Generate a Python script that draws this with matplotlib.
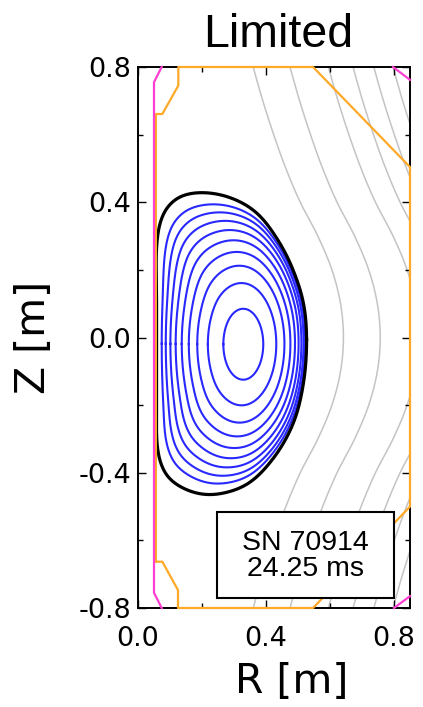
import numpy as np
import matplotlib
matplotlib.use("Agg")
import matplotlib.pyplot as plt
from matplotlib.patches import Rectangle

plt.rcParams['axes.unicode_minus'] = False

# ---------------- data (metres) ----------------
# last closed flux surface
lcfs_R = [0.527, 0.519, 0.496, 0.449, 0.371, 0.288, 0.199, 0.131, 0.090, 0.069,
          0.058, 0.058, 0.058, 0.058, 0.060, 0.074, 0.100, 0.163, 0.235, 0.340,
          0.425, 0.487, 0.518]
lcfs_Z = [-0.006, 0.093, 0.172, 0.270, 0.369, 0.414, 0.429, 0.417, 0.384, 0.340,
          0.270, 0.120, -0.040, -0.200, -0.322, -0.381, -0.420, -0.455, -0.465, -0.435,
          -0.355, -0.250, -0.130]

# magnetic axis and core surface shape (half-width, half-height per unit rho)
axis_R, axis_Z = 0.331, -0.020
core_a, core_b = 0.28, 0.47

# normalised poloidal flux of the closed surfaces
psi_levels = [0.05, 0.15, 0.25, 0.35, 0.45, 0.55, 0.65, 0.75, 0.85]

# open field lines: radius at the midplane and common vertical profile
open_R_mid = [0.642, 0.757, 0.877, 0.954, 1.019, 1.079, 1.132]
open_Z = [0.0, 0.1, 0.2, 0.3, 0.4, 0.5, 0.6, 0.7, 0.8, 0.9]
open_dR = [0.0, 0.009, 0.036, 0.080, 0.135, 0.180, 0.218, 0.252, 0.282, 0.310]

# vacuum vessel / limiter contour
vessel_R = [0.056, 0.056, 0.076, 0.126, 0.126, 0.547, 0.850, 0.850, 0.547, 0.125,
            0.125, 0.076, 0.056]
vessel_Z = [-0.663, 0.661, 0.661, 0.745, 0.800, 0.800, 0.504, -0.500, -0.800, -0.800,
            -0.747, -0.663, -0.663]

# centre-column wall and outer corner tiles
wall_R = [0.074, 0.050, 0.050, 0.074]
wall_Z = [0.800, 0.755, -0.755, -0.800]
tile_top_R = [0.797, 0.850]
tile_top_Z = [0.800, 0.762]
tile_bot_R = [0.800, 0.850]
tile_bot_Z = [-0.800, -0.765]

x_ticks = [0.0, 0.2, 0.4, 0.6, 0.8]
x_labels = ["0.0", "", "0.4", "", "0.8"]
y_ticks = [-0.8, -0.6, -0.4, -0.2, 0.0, 0.2, 0.4, 0.6, 0.8]
y_labels = ["-0.8", "", "-0.4", "", "0.0", "", "0.4", "", "0.8"]

shot_text = "SN 70914\n24.25 ms"


def catmull_rom(points, n=24, closed=False):
    """Centripetal Catmull-Rom spline through a list of 2-D points."""
    P = np.asarray(points, float)
    if closed:
        pts = np.vstack([P[-1], P, P[0], P[1]])
    else:
        pts = np.vstack([2 * P[0] - P[1], P, 2 * P[-1] - P[-2]])
    out = []
    for i in range(len(pts) - 3):
        p0, p1, p2, p3 = pts[i:i + 4]
        t0 = 0.0
        t1 = t0 + np.linalg.norm(p1 - p0) ** 0.5
        t2 = t1 + np.linalg.norm(p2 - p1) ** 0.5
        t3 = t2 + np.linalg.norm(p3 - p2) ** 0.5
        t = np.linspace(t1, t2, n, endpoint=False)[:, None]
        A1 = (t1 - t) / (t1 - t0) * p0 + (t - t0) / (t1 - t0) * p1
        A2 = (t2 - t) / (t2 - t1) * p1 + (t - t1) / (t2 - t1) * p2
        A3 = (t3 - t) / (t3 - t2) * p2 + (t - t2) / (t3 - t2) * p3
        B1 = (t2 - t) / (t2 - t0) * A1 + (t - t0) / (t2 - t0) * A2
        B2 = (t3 - t) / (t3 - t1) * A2 + (t - t1) / (t3 - t1) * A3
        out.append((t2 - t) / (t2 - t1) * B1 + (t - t1) / (t2 - t1) * B2)
    res = np.vstack(out)
    return np.vstack([res, res[:1]]) if closed else np.vstack([res, P[-1]])


def smooth_closed(curve, n=800, sigma=0.018):
    """Resample a closed curve by arc length and apply a periodic Gaussian filter."""
    seg = np.hypot(*np.diff(curve, axis=0).T)
    s = np.concatenate([[0], np.cumsum(seg)])
    L = s[-1]
    su = np.linspace(0, L, n, endpoint=False)
    x = np.interp(su, s, curve[:, 0])
    y = np.interp(su, s, curve[:, 1])
    ds = L / n
    k = np.arange(-int(4 * sigma / ds), int(4 * sigma / ds) + 1)
    g = np.exp(-0.5 * (k * ds / sigma) ** 2)
    g /= g.sum()
    xs = sum(w * np.roll(x, -j) for j, w in zip(k, g))
    ys = sum(w * np.roll(y, -j) for j, w in zip(k, g))
    return np.column_stack([np.append(xs, xs[0]), np.append(ys, ys[0])])


fig = plt.figure(figsize=(4.23, 7.07), dpi=100)
ax = fig.add_axes([138 / 423, 1 - 608 / 707, 272 / 423, 541 / 707])
ax.set_xlim(0.0, 0.85)
ax.set_ylim(-0.8, 0.8)

# open field lines
zz = np.array(open_Z)
hh = np.array(open_dR)
prof_Z = np.concatenate([-zz[::-1], zz[1:]])
prof_h = np.concatenate([hh[::-1], hh[1:]])
for rm in open_R_mid:
    c = catmull_rom(np.column_stack([rm - prof_h, prof_Z]), n=16)
    ax.plot(c[:, 0], c[:, 1], color="#c4c4c4", lw=1.1, zorder=1)

# boundary
bnd = smooth_closed(catmull_rom(np.column_stack([lcfs_R, lcfs_Z]), n=30, closed=True))
Rc = 0.5 * (max(lcfs_R) + min(lcfs_R))
Zc = 0.5 * (max(lcfs_Z) + min(lcfs_Z))
phi_b = np.arctan2(bnd[:-1, 1] - Zc, bnd[:-1, 0] - Rc)
r_b = np.hypot(bnd[:-1, 0] - Rc, bnd[:-1, 1] - Zc)
order = np.argsort(phi_b)
phi = np.linspace(-np.pi, np.pi, 721)
rb = np.interp(phi, phi_b[order], r_b[order], period=2 * np.pi)
re = 1.0 / np.sqrt((np.cos(phi) / core_a) ** 2 + (np.sin(phi) / core_b) ** 2)

# closed flux surfaces
for psi in psi_levels:
    rho = np.sqrt(psi)
    w = psi ** 1.3
    r = (1 - w) * re + w * rb
    cR = axis_R + (Rc - axis_R) * psi
    cZ = axis_Z + (Zc - axis_Z) * psi
    ax.plot(cR + rho * r * np.cos(phi), cZ + rho * r * np.sin(phi),
            color="#2828ff", lw=1.5, zorder=2)

ax.plot(bnd[:, 0], bnd[:, 1], color="black", lw=2.3, zorder=3)

# vessel and wall
ax.plot(vessel_R, vessel_Z, color="#ffa928", lw=1.6, zorder=4, clip_on=False)
for rr, zv in [(wall_R, wall_Z), (tile_top_R, tile_top_Z), (tile_bot_R, tile_bot_Z)]:
    ax.plot(rr, zv, color="#ff3fd2", lw=1.6, zorder=4, clip_on=False)

# shot annotation
ax.add_patch(Rectangle((0.289, 0.018), 0.653, 0.160, transform=ax.transAxes,
                       facecolor="white", edgecolor="black", lw=1.5, zorder=6))
ax.text(0.6155, 0.097, shot_text, transform=ax.transAxes, ha="center", va="center",
        family="Liberation Sans", fontsize=20.5, linespacing=1.0, zorder=7)

# axes styling
for s in ax.spines.values():
    s.set_linewidth(1.4)
ax.set_xticks(x_ticks)
ax.set_xticklabels(x_labels)
ax.set_yticks(y_ticks)
ax.set_yticklabels(y_labels)
ax.tick_params(direction="in", top=True, right=True, width=1.0, length=5.5,
               labelsize=19.5)
ax.tick_params(axis="x", pad=13)
ax.tick_params(axis="y", pad=5)
# shorter ticks where no label is drawn
for axis_obj, labs in [(ax.xaxis, x_labels), (ax.yaxis, y_labels)]:
    for tick, lab in zip(axis_obj.get_major_ticks(), labs):
        if lab == "":
            tick.tick1line.set_markersize(3.5)
            tick.tick2line.set_markersize(3.5)

fig.text(278 / 423, 1 - 46.7 / 707, "Limited", ha="center", va="baseline",
         family="Liberation Sans", fontsize=33.5)
fig.text(291.7 / 423, 1 - 693 / 707, "R [m]", ha="center", va="baseline",
         fontsize=29.5)
fig.text(34 / 423, 1 - 337 / 707, "Z [m]", ha="center", va="center",
         rotation=90, fontsize=29.5)

fig.savefig("out.png", dpi=100)
